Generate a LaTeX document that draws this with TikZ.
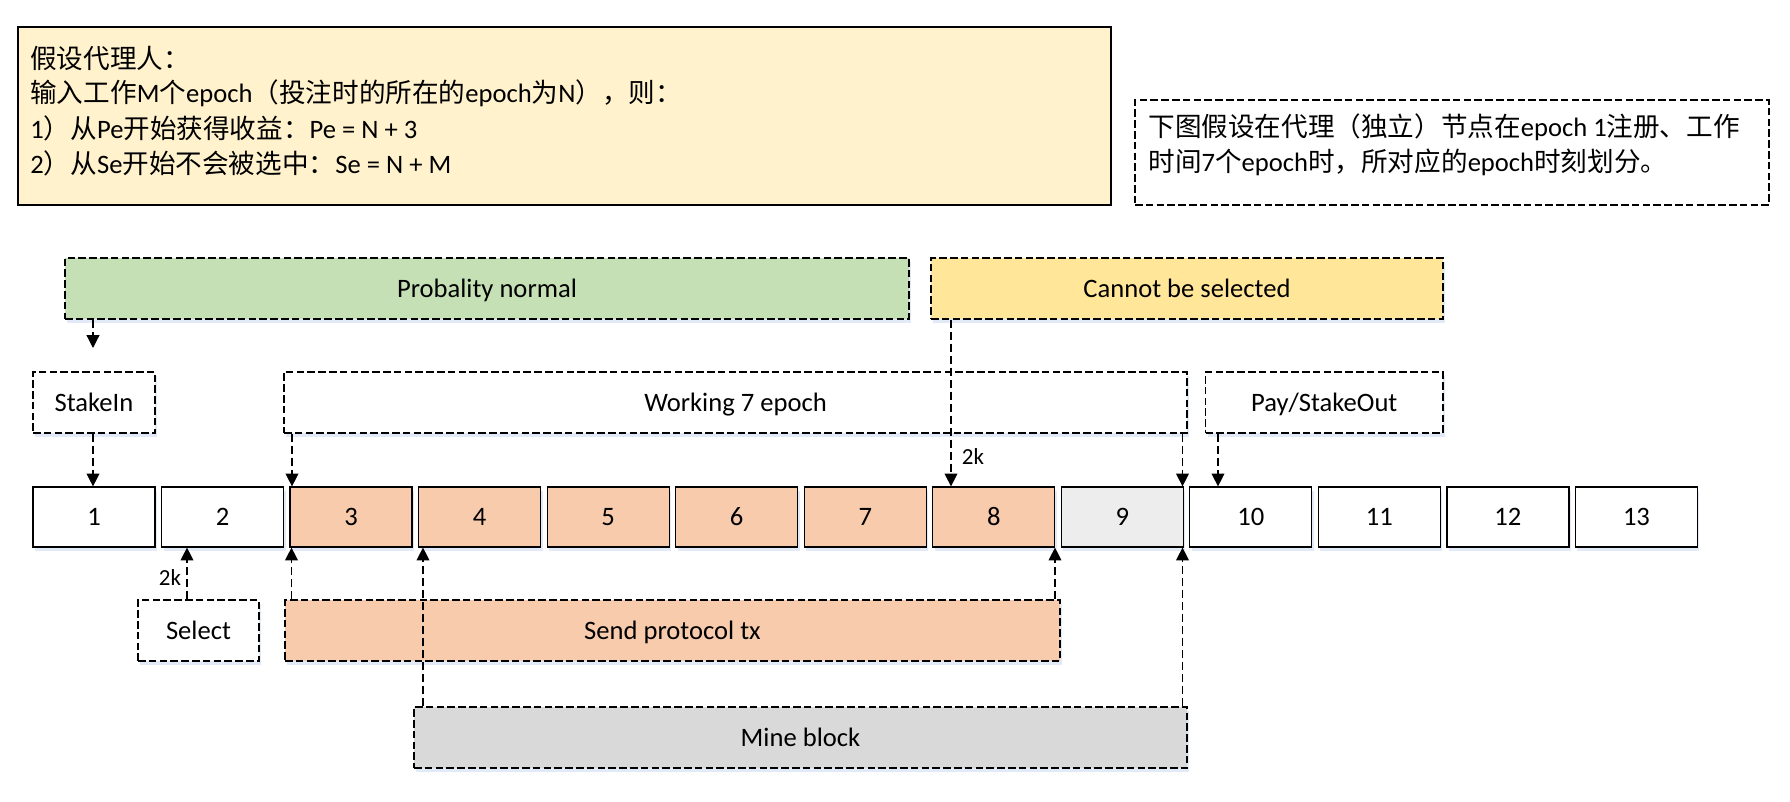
\documentclass[tikz,border=0pt]{standalone}
\usepackage{fontspec}
\setmainfont{Carlito}
\newfontfamily\cjkfont{Noto Sans CJK SC}
\newcommand{\zhf}[1]{{\cjkfont #1}}
\usetikzlibrary{arrows.meta,calc,shadows}
\definecolor{notefill}{HTML}{FFF2CC}
\definecolor{greenc}{HTML}{C5E0B4}
\definecolor{yellowc}{HTML}{FFE699}
\definecolor{salmon}{HTML}{F8CBAD}
\definecolor{grayn}{HTML}{EDEDED}
\definecolor{mineg}{HTML}{D9D9D9}
\definecolor{shadowc}{RGB}{205,220,240}
\begin{document}
\begin{tikzpicture}[x=0.5pt,y=-0.5pt,
  every node/.style={font=\fontsize{13.3}{16}\selectfont, inner sep=0pt},
  sz/.style 2 args={minimum width={#1*0.5pt}, minimum height={#2*0.5pt}, text height=10.4pt, text depth=1.5pt},
  dbox/.style={draw, line width=0.6pt, dash pattern=on 3.8pt off 1.6pt},
  sbox/.style={draw, line width=0.6pt},
  shd/.style={drop shadow={shadow xshift=1pt, shadow yshift=-2pt, fill=shadowc, opacity=0.6}},
  conn/.style={draw, line width=0.6pt, dash pattern=on 4pt off 2pt, -{Triangle[length=6.4pt,width=6.4pt]}},
  lbl/.style={font=\fontsize{11.5}{13}\selectfont},
]
\useasboundingbox (0,0) rectangle (1790,802);

% top-left note
\node[sbox, fill=notefill, minimum width=546.5pt, minimum height=89pt] (topbox) at (564.5,116) {};
\node[anchor=west] (t1) at (30,58) {\zhf{假设代理人：}};
\node[anchor=west] (t2) at (30,93) {\zhf{输入工作}M\zhf{个}epoch\zhf{（投注时的所在的}epoch\zhf{为}N\zhf{），则：}};
\node[anchor=west] (t3) at (30,128) {1\zhf{）从}Pe\zhf{开始获得收益：}Pe = N + 3};
\node[anchor=west] (t4) at (30,163) {2\zhf{）从}Se\zhf{开始不会被选中：}Se = N + M};

% top-right note
\node[dbox, minimum width=317pt, minimum height=52.5pt] (note) at (1452,152.5) {};
\node[anchor=west] (n1) at (1148,127) {\zhf{下图假设在代理（独立）节点在}epoch 1\zhf{注册、工作}};
\node[anchor=west] (n2) at (1148,162) {\zhf{时间}7\zhf{个}epoch\zhf{时，所对应的}epoch\zhf{时刻划分。}};

% epoch boxes
\foreach \i/\c in {1/white,2/white,3/salmon,4/salmon,5/salmon,6/salmon,7/salmon,8/salmon,9/grayn,10/white,11/white,12/white,13/white}
  \node[sbox, fill=\c, shd, sz={122}{60}] (e\i) at ({94+(\i-1)*128.54},517) {\i};

% phase boxes
\node[dbox, fill=greenc, shd, sz={844}{61}] (green) at (487,288.5) {Probality normal};
\node[dbox, fill=yellowc, shd, sz={512}{61}] (yellow) at (1187,288.5) {Cannot be selected};
\node[dbox, fill=white, shd, sz={122}{61}] (stakein) at (94,402.5) {StakeIn};
\node[dbox, fill=white, shd, sz={903}{61}] (working) at (735.5,402.5) {Working 7 epoch};
\node[dbox, fill=white, shd, sz={237.5}{61}] (pay) at (1324.25,402.5) {Pay/StakeOut};
\node[dbox, fill=white, shd, sz={121}{61}] (select) at (198.5,630.5) {Select};
\node[dbox, fill=salmon, shd, sz={775}{61}] (send) at (672.5,630.5) {Send protocol tx};
\node[dbox, fill=mineg, shd, sz={773}{61}] (mine) at (800.5,737.5) {Mine block};

% helper coordinates (x positions of connectors)
\coordinate (gEnd) at (93,348);
\coordinate (a3) at (292,0);
\coordinate (a4) at (951,0);
\coordinate (a5) at (1182.5,0);
\coordinate (a6) at (1218,0);
\coordinate (a7) at (187,0);
\coordinate (a8) at (291.5,0);
\coordinate (a9) at (423,0);
\coordinate (a10) at (1055,0);
\coordinate (a11) at (1182.5,0);

% connectors
\draw[conn] (gEnd |- green.south) -- (gEnd);
\draw[conn] (gEnd |- stakein.south) -- (gEnd |- e1.north);
\draw[conn] (a3 |- working.south) -- (a3 |- e3.north);
\draw[conn] (a4 |- yellow.south) -- (a4 |- e8.north);
\draw[conn] (a5 |- working.south) -- (a5 |- e9.north);
\draw[conn] (a6 |- pay.south) -- (a6 |- e10.north);
\draw[conn] (a7 |- select.north) -- (a7 |- e2.south);
\draw[conn] (a8 |- send.north) -- (a8 |- e3.south);
\draw[conn] (a9 |- mine.north) -- (a9 |- e4.south);
\draw[conn] (a10 |- send.north) -- (a10 |- e8.south);
\draw[conn] (a11 |- mine.north) -- (a11 |- e9.south);

\node[lbl] (k1) at (973,457) {2k};
\node[lbl] (k2) at (170,578) {2k};
\end{tikzpicture}
\end{document}
